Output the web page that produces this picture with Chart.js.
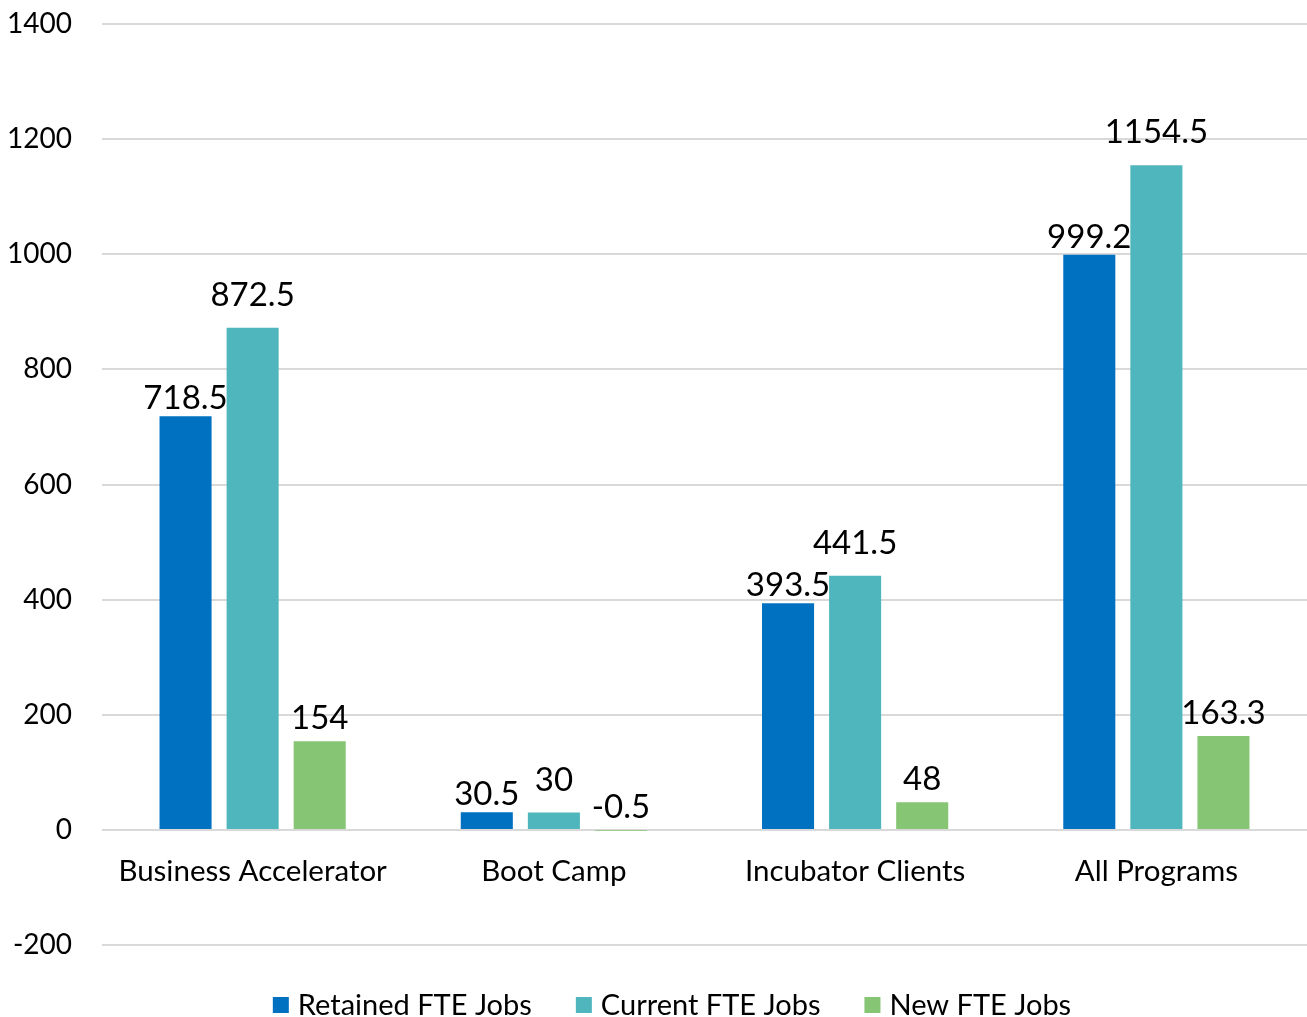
<!DOCTYPE html>
<html>
<head>
<meta charset="utf-8">
<title>FTE Jobs by Program</title>
<script src="https://cdn.jsdelivr.net/npm/chart.js@4"></script>
<style>
  html, body { margin: 0; padding: 0; background: #fff; }
  #wrap { width: 1307px; height: 1017px; }
</style>
</head>
<body>
<div id="wrap"><canvas id="jobsChart" width="1307" height="1017"></canvas></div>
<script>
// Programs along the x axis
const programs = ['Business Accelerator', 'Boot Camp', 'Incubator Clients', 'All Programs'];

// FTE job counts per program
const retainedJobs = [718.5, 30.5, 393.5, 999.2];
const currentJobs = [872.5, 30, 441.5, 1154.5];
const newJobs = [154, -0.5, 48, 163.3];

const seriesNames = ['Retained FTE Jobs', 'Current FTE Jobs', 'New FTE Jobs'];
const seriesColors = ['#0070C0', '#4EB6BC', '#85C574'];

const FONT = 'Lato, "Open Sans", sans-serif';

// Value printed just above the end of each bar
const barValueLabels = {
    id: 'barValueLabels',
    afterDatasetsDraw(chart) {
        const ctx = chart.ctx;
        ctx.save();
        ctx.font = `33px ${FONT}`;
        ctx.fillStyle = '#000';
        ctx.textAlign = 'center';
        ctx.textBaseline = 'alphabetic';
        chart.data.datasets.forEach((ds, i) => {
            const meta = chart.getDatasetMeta(i);
            meta.data.forEach((bar, j) => {
                const top = Math.min(bar.y, bar.base);
                ctx.fillText(String(ds.data[j]), bar.x, top - (ds.labelGap || 12));
            });
        });
        ctx.restore();
    }
};

// Legend row along the bottom edge
const bottomLegend = {
    id: 'bottomLegend',
    afterDraw(chart) {
        const ctx = chart.ctx;
        const box = 16, gapText = 9, gapItem = 44;
        const y = 1005;
        ctx.save();
        ctx.font = `29px ${FONT}`;
        ctx.textBaseline = 'middle';
        const widths = chart.data.datasets.map(ds => box + gapText + ctx.measureText(ds.label).width);
        const total = widths.reduce((a, b) => a + b, 0) + gapItem * (widths.length - 1);
        let x = 672 - total / 2;
        chart.data.datasets.forEach((ds, i) => {
            ctx.fillStyle = ds.backgroundColor;
            ctx.fillRect(x, y - box / 2, box, box);
            ctx.fillStyle = '#000';
            ctx.fillText(ds.label, x + box + gapText, y + 1);
            x += widths[i] + gapItem;
        });
        ctx.restore();
    }
};

const labelGaps = [7, 22, 12];
const seriesData = [retainedJobs, currentJobs, newJobs];

const datasets = seriesData.map((values, i) => ({
    label: seriesNames[i],
    data: values,
    backgroundColor: seriesColors[i],
    borderWidth: 0,
    labelGap: labelGaps[i],
    categoryPercentage: 0.668,
    barPercentage: 0.776
}));

new Chart(document.getElementById('jobsChart').getContext('2d'), {
    type: 'bar',
    data: { labels: programs, datasets: datasets },
    options: {
        responsive: false,
        animation: false,
        layout: { padding: { left: 0, right: 0, top: 24, bottom: 72 } },
        plugins: {
            legend: { display: false },
            tooltip: { enabled: false }
        },
        scales: {
            x: {
                axis: 'x',
                position: { y: 0 },
                grid: { display: false, drawTicks: false },
                border: { display: false },
                ticks: {
                    color: '#000',
                    padding: 24,
                    font: { family: FONT, size: 29.5 }
                },
                // category labels sit inside the plot, so they need no side room
                afterFit(scale) {
                    scale.paddingLeft = 0;
                    scale.paddingRight = 0;
                }
            },
            y: {
                min: -200,
                max: 1400,
                ticks: {
                    stepSize: 200,
                    color: '#000',
                    padding: 30,
                    font: { family: FONT, size: 28 },
                    callback: v => String(v)
                },
                grid: { color: '#D9D9D9', lineWidth: 2, drawTicks: false },
                border: { display: false },
                // fixed gutter for the value labels; layout padding handles the ends
                afterFit(scale) {
                    scale.width = 102;
                    scale.paddingTop = 0;
                    scale.paddingBottom = 0;
                }
            }
        }
    },
    plugins: [barValueLabels, bottomLegend]
});
</script>
</body>
</html>
